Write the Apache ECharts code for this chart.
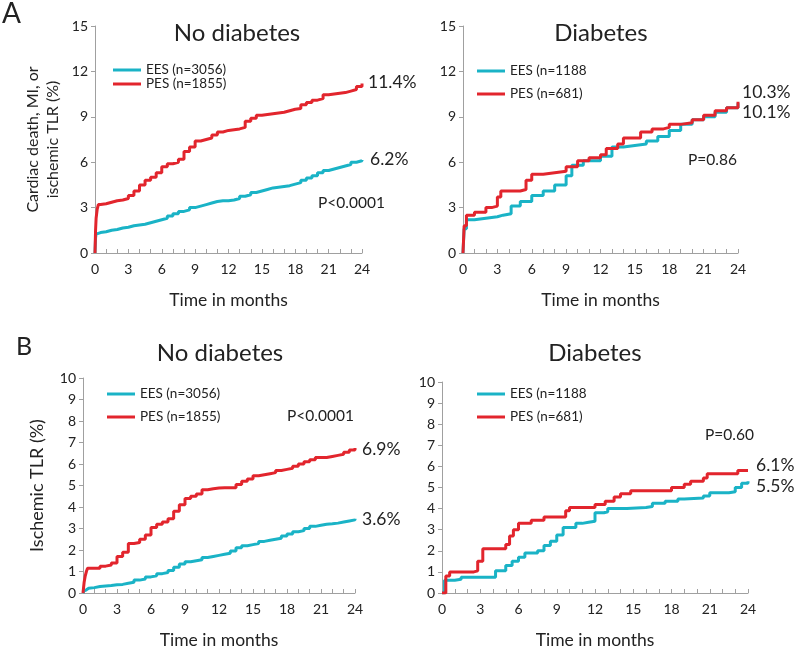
<!DOCTYPE html>
<html><head><meta charset="utf-8">
<script src="https://cdn.jsdelivr.net/npm/echarts@6/dist/echarts.min.js"></script>
<style>html,body{margin:0;padding:0;background:#fff}#c{width:800px;height:650px}</style>
</head><body><div id="c"></div>
<script>
// ---- Data ----
// Panel A, No diabetes (cardiac death, MI, or ischemic TLR, %)
var aNoMonths = [0,0.05,0.1,0.2,0.3,0.5,1,1.5,2,2.5,3,3.5,4,4.5,5,5.5,6,6.5,7,7.5,8,8.5,9,9.5,10,10.5,11,11.5,12,12.5,13,13.5,14,14.5,15,15.5,16,16.5,17,17.5,18,18.5,19,19.5,20,20.5,21,21.5,22,22.5,23,23.5,24];
var aNoPES    = [0,1.5,2.3,2.9,3.2,3.25,3.35,3.45,3.5,3.6,3.8,4.1,4.5,4.8,5.0,5.3,5.7,5.9,6.0,6.2,6.7,7.0,7.4,7.5,7.6,7.8,8.0,8.1,8.15,8.2,8.3,8.7,8.9,9.1,9.15,9.2,9.25,9.3,9.4,9.5,9.55,9.8,9.95,10.1,10.2,10.45,10.5,10.55,10.6,10.7,10.8,11.0,11.2];
var aNoEES    = [0,1.0,1.25,1.3,1.35,1.4,1.5,1.55,1.65,1.7,1.8,1.85,1.9,2.0,2.1,2.2,2.3,2.45,2.6,2.75,2.85,3.0,3.1,3.2,3.3,3.4,3.45,3.45,3.5,3.6,3.75,3.85,4.0,4.1,4.2,4.3,4.35,4.4,4.45,4.55,4.65,4.8,4.95,5.1,5.3,5.45,5.55,5.65,5.75,5.85,6.0,6.1,6.15];
// Panel A, Diabetes
var aDiMonthsP = [0,0.1,0.3,1,2,2.5,3.0,3.3,5.0,5.5,6,7,8,9,10,11,12,12.5,13.5,14,15.5,16.5,17.5,18,19,20,21,22,23,24];
var aDiPES     = [0,1.8,2.5,2.7,3.0,3.1,3.7,4.1,4.2,4.8,5.2,5.3,5.4,5.7,6.1,6.3,6.5,6.9,7.2,7.6,8.0,8.2,8.3,8.5,8.6,8.8,9.1,9.4,9.6,10.0];
var aDiMonthsE = [0,0.1,0.3,1,2,3,3.5,4.2,5,6,7,8,9,9.5,10.5,12,13,14,15,16,17,18,19,20,21,22,23,24];
var aDiEES     = [0,1.6,2.2,2.3,2.4,2.5,2.6,3.1,3.4,3.8,4.1,4.5,5.1,5.8,6.1,6.4,7.0,7.1,7.2,7.4,7.7,8.1,8.5,8.8,9.0,9.3,9.6,9.9];
// Panel B, No diabetes (ischemic TLR, %)
var bNoMonths = [0,0.1,0.2,0.3,0.4,0.5,1,1.5,2,2.5,3,3.5,4,4.5,5,5.5,6,6.5,7,7.5,8,8.5,9,9.5,10,10.5,11,11.5,12,12.5,13,13.5,14,14.5,15,15.5,16,16.5,17,17.5,18,18.5,19,19.5,20,20.5,21,21.5,22,22.5,23,23.5,24];
var bNoPES    = [0,0.5,0.8,1.0,1.15,1.15,1.15,1.25,1.3,1.4,1.7,1.9,2.3,2.35,2.5,2.7,3.05,3.2,3.3,3.45,3.8,4.1,4.4,4.5,4.6,4.8,4.85,4.88,4.9,4.9,4.9,5.05,5.2,5.3,5.45,5.5,5.55,5.6,5.7,5.75,5.8,5.9,6.0,6.1,6.2,6.3,6.3,6.35,6.4,6.45,6.55,6.65,6.75];
var bNoEES    = [0,0.1,0.15,0.2,0.22,0.25,0.3,0.33,0.35,0.38,0.4,0.45,0.5,0.6,0.65,0.75,0.8,0.9,0.95,1.05,1.2,1.35,1.45,1.5,1.55,1.65,1.7,1.75,1.8,1.85,1.95,2.1,2.2,2.25,2.3,2.4,2.45,2.5,2.55,2.65,2.75,2.85,2.9,3.0,3.1,3.15,3.2,3.22,3.25,3.3,3.35,3.4,3.45];
// Panel B, Diabetes
var bDiMonthsP = [0,0.3,0.6,2.5,2.8,3.2,4.8,5.0,5.3,5.6,6,7,8,9.5,9.7,10,11.5,12,12.8,13.5,14,14.8,17.5,18,19,19.5,20.5,20.8,23,23.2,24];
var bDiPES     = [0,0.8,1.0,1.05,1.5,2.1,2.1,2.3,2.7,3.0,3.3,3.45,3.6,3.6,3.9,4.05,4.05,4.2,4.35,4.55,4.7,4.85,4.85,5.0,5.15,5.3,5.45,5.65,5.65,5.8,5.8];
var bDiMonthsE = [0,0.2,1,1.5,3.8,4.2,5,5.5,6,6.5,7.5,8,8.5,9,9.5,10.5,11,11.5,12,12.7,13,14.5,16,16.5,17.5,18.5,19,20.5,21,22.5,23,23.5,24];
var bDiEES     = [0,0.6,0.65,0.75,0.75,1.05,1.3,1.5,1.7,1.9,2.0,2.25,2.45,2.75,3.1,3.3,3.35,3.4,3.8,3.85,4.0,4.05,4.1,4.25,4.35,4.45,4.5,4.6,4.75,4.8,5.0,5.2,5.3];

var CYAN = '#1ab3c6', RED = '#e2252d';
var FONT = 'Lato, "Open Sans", sans-serif';

function zip(xs, ys){ return xs.map(function(x,i){ return [x, ys[i]]; }); }

var grids = [
  {left:95, right:438, top:26, height:227},
  {left:463, right:62, top:26, height:227},
  {left:83, right:445, top:378, height:216},
  {left:442, right:52, top:382, height:212}
];
function xAxis(i){
  return {type:'value', gridIndex:i, min:0, max:24, interval:3,
    axisLine:{lineStyle:{color:'#a0a0a0', width:1}},
    axisTick:{show:true, inside:true, length:4, lineStyle:{color:'#a0a0a0'}},
    minorTick:{show:true, splitNumber:3, length:4, lineStyle:{color:'#a0a0a0'}},
    splitLine:{show:false},
    axisLabel:{color:'#222', fontSize:14, fontFamily:FONT, margin:9},
    name:'Time in months', nameLocation:'middle', nameGap:38,
    nameTextStyle:{color:'#222', fontSize:17.5, fontFamily:FONT}};
}
function yAxis(i, max, interval, name, gap, size){
  return {type:'value', gridIndex:i, min:0, max:max, interval:interval,
    axisLine:{show:true, lineStyle:{color:'#a0a0a0', width:1}},
    axisTick:{show:true, length:4, lineStyle:{color:'#a0a0a0'}},
    splitLine:{show:false},
    axisLabel:{color:'#222', fontSize:14, fontFamily:FONT, margin:7},
    name:name||'', nameLocation:'middle', nameGap:gap||30,
    nameTextStyle:{color:'#222', fontSize:size||15, fontFamily:FONT, lineHeight:20}};
}
function line(name, data, i, color){
  return {type:'line', name:name, xAxisIndex:i, yAxisIndex:i, data:data, step:'end',
    showSymbol:false, symbol:'none', lineStyle:{color:color, width:3}, itemStyle:{color:color},
    silent:true, animation:false};
}
function legend(names, left, top, gap){
  return {orient:'vertical', left:left, top:top, padding:0, data:names, icon:'rect',
    itemWidth:28, itemHeight:3, itemGap:gap, selectedMode:false,
    textStyle:{color:'#222', fontSize:13.5, fontFamily:FONT, lineHeight:14, padding:[0,0,0,0]}};
}
function txt(x, y, s, size, align){
  return {type:'text', x:x, y:y, style:{text:s, fill:'#222', font:size+'px '+FONT, textAlign:align||'left', textVerticalAlign:'middle', verticalAlign:'middle'}};
}

var option = {
  animation:false,
  backgroundColor:'#fff',
  grid:grids,
  xAxis:[xAxis(0), xAxis(1), xAxis(2), xAxis(3)],
  yAxis:[yAxis(0,15,3,'Cardiac death, MI, or\nischemic TLR (%)', 32, 16), yAxis(1,15,3), yAxis(2,10,1,'Ischemic TLR (%)', 36, 18), yAxis(3,10,1)],
  legend:[
    legend(['EES (n=3056)','PES (n=1855)'], 113, 63, 0),
    legend(['EES (n=1188','PES (n=681)'], 477, 64, 9),
    legend(['EES (n=3056)','PES (n=1855)'], 107, 387, 9),
    legend(['EES (n=1188','PES (n=681)'], 477, 387, 9)
  ],
  series:[
    line('EES (n=3056)', zip(aNoMonths, aNoEES), 0, CYAN),
    line('PES (n=1855)', zip(aNoMonths, aNoPES), 0, RED),
    line('EES (n=1188', zip(aDiMonthsE, aDiEES), 1, CYAN),
    line('PES (n=681)', zip(aDiMonthsP, aDiPES), 1, RED),
    line('EES (n=3056)', zip(bNoMonths, bNoEES), 2, CYAN),
    line('PES (n=1855)', zip(bNoMonths, bNoPES), 2, RED),
    line('EES (n=1188', zip(bDiMonthsE, bDiEES), 3, CYAN),
    line('PES (n=681)', zip(bDiMonthsP, bDiPES), 3, RED)
  ],
  graphic:[
    txt(2, 14, 'A', 28),
    txt(16, 347, 'B', 25),
    txt(237, 33, 'No diabetes', 24, 'center'),
    txt(601, 33, 'Diabetes', 24, 'center'),
    txt(220, 353, 'No diabetes', 24, 'center'),
    txt(595, 353, 'Diabetes', 24, 'center'),
    txt(368, 82, '11.4%', 17.5),
    txt(370, 159, '6.2%', 17.5),
    txt(318, 203, 'P<0.0001', 15.5),
    txt(742, 92, '10.3%', 17.5),
    txt(742, 112, '10.1%', 17.5),
    txt(688, 160, 'P=0.86', 15.5),
    txt(362, 449, '6.9%', 17.5),
    txt(362, 519, '3.6%', 17.5),
    txt(287, 416, 'P<0.0001', 15.5),
    txt(705, 435, 'P=0.60', 15.5),
    txt(756, 465, '6.1%', 17.5),
    txt(756, 486, '5.5%', 17.5)
  ]
};
var chart = echarts.init(document.getElementById('c'), null, {renderer:'canvas'});
chart.setOption(option);
</script></body></html>
